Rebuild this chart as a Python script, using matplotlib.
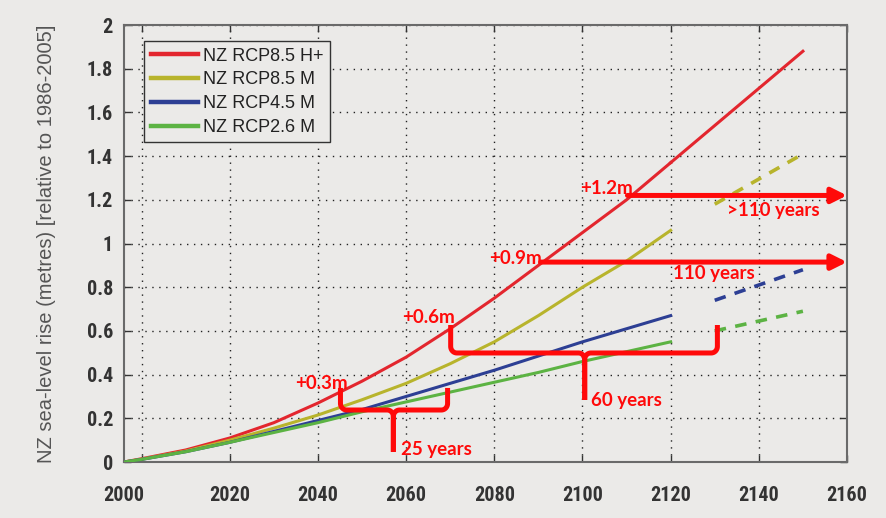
import numpy as np
import matplotlib
matplotlib.use('agg')
from matplotlib import pyplot as plt
from matplotlib import font_manager

# --- data ---
years = [1996, 2000, 2010, 2020, 2030, 2040, 2050, 2060, 2070, 2080, 2090, 2100, 2110, 2120]
rcp85_hplus = [0.0, 0.015, 0.055, 0.11, 0.18, 0.27, 0.37, 0.48, 0.61, 0.75, 0.90, 1.05, 1.20, 1.37]
rcp85_m = [0.0, 0.013, 0.05, 0.10, 0.155, 0.215, 0.285, 0.36, 0.45, 0.55, 0.67, 0.80, 0.92, 1.06]
rcp45_m = [0.0, 0.012, 0.047, 0.09, 0.14, 0.19, 0.24, 0.30, 0.36, 0.42, 0.485, 0.55, 0.61, 0.67]
rcp26_m = [0.0, 0.012, 0.047, 0.09, 0.135, 0.18, 0.23, 0.275, 0.32, 0.365, 0.41, 0.46, 0.505, 0.55]

# H+ continues solid beyond 2120, the M scenarios are dashed 2130-2150
hplus_ext_years = [2120, 2130, 2140, 2150]
hplus_ext = [1.37, 1.54, 1.71, 1.88]
ext_years = [2130, 2150]
rcp85_m_ext = [1.18, 1.41]
rcp45_m_ext = [0.74, 0.88]
rcp26_m_ext = [0.60, 0.69]

series_labels = ['NZ RCP8.5 H+', 'NZ RCP8.5 M', 'NZ RCP4.5 M', 'NZ RCP2.6 M']
series_colors = ['#e3262e', '#b8b42c', '#2d3f94', '#5cb343']

x_ticks = [2000, 2020, 2040, 2060, 2080, 2100, 2120, 2140, 2160]
y_ticks = [0, 0.2, 0.4, 0.6, 0.8, 1.0, 1.2, 1.4, 1.6, 1.8, 2.0]
y_ticklabels = ['0', '0.2', '0.4', '0.6', '0.8', '1', '1.2', '1.4', '1.6', '1.8', '2']

# annotations: (text, x, y)
rise_labels = [('+0.3m', 2040.8, 0.36), ('+0.6m', 2065.1, 0.66),
               ('+0.9m', 2084.8, 0.93), ('+1.2m', 2105.4, 1.25)]
delay_labels = [('25 years', 2058.8, 0.055), ('60 years', 2102.0, 0.28),
                ('110 years', 2129.7, 0.865), ('>110 years', 2143.3, 1.15)]
# arrows: (x start, level)
arrows = [(2090.5, 0.915), (2110.2, 1.22)]
# braces: (x left, x middle, x right, y top, y bar, y stem end)
braces = [(2045.1, 2057.1, 2069.4, 0.339, 0.238, 0.046),
          (2070.1, 2100.5, 2130.6, 0.627, 0.499, 0.284)]

ANN_RED = '#ff0a0a'


def pick_font(names):
    have = set(f.name for f in font_manager.fontManager.ttflist)
    for n in names:
        if n in have:
            return n
    return 'DejaVu Sans'


tick_font = pick_font(['Liberation Sans Narrow', 'Roboto Condensed', 'DejaVu Sans'])
text_font = pick_font(['Liberation Sans', 'Arial', 'DejaVu Sans'])
ann_font = pick_font(['Lato', 'Open Sans', 'DejaVu Sans'])


def draw_brace(ax, xl, xm, xr, ytop, ybar, ystem, color=ANN_RED, lw=3.6):
    rx, ry = 1.4, 0.03
    t = np.linspace(0, np.pi / 2, 10)
    # each arm: down, round corner, along the bar, round into the stem
    for xo, sgn in ((xl, 1), (xr, -1)):
        arm_x = [xo] + list(xo + sgn * (rx - rx * np.cos(t))) + list(xm - sgn * (rx - rx * np.sin(t))) + [xm]
        arm_y = [ytop] + list(ybar + ry - ry * np.sin(t)) + list(ybar - ry + ry * np.cos(t)) + [ystem]
        ax.plot(arm_x, arm_y, color=color, lw=lw, solid_capstyle='butt',
                solid_joinstyle='round', zorder=5)


bg = '#ebeae8'
fig = plt.figure(figsize=(8.87, 5.18), dpi=100, facecolor=bg)
ax = fig.add_axes([0.1398, 0.1081, 0.8151, 0.8436], facecolor=bg)

main = [rcp85_hplus, rcp85_m, rcp45_m, rcp26_m]
for vals, lab, col in zip(main, series_labels, series_colors):
    ax.plot(years, vals, color=col, lw=2.2, label=lab, zorder=3)

ax.plot(hplus_ext_years, hplus_ext, color=series_colors[0], lw=2.2, zorder=3)
for vals, col in zip([rcp85_m_ext, rcp45_m_ext, rcp26_m_ext], series_colors[1:]):
    ax.plot(ext_years, vals, color=col, lw=2.6, linestyle=(0, (3.2, 2.6)), zorder=3)

ax.set_xlim(1996, 2160)
ax.set_ylim(0, 2)
ax.set_xticks(x_ticks)
ax.set_xticklabels([''] + [str(v) for v in x_ticks[1:]])
ax.set_yticks(y_ticks)
ax.set_yticklabels(y_ticklabels)

ax.grid(True, color='#222222', linestyle=(0, (1, 4)), lw=1.0)
ax.tick_params(direction='in', top=True, right=True, length=5, width=1, color='#333333',
               labelsize=14.5, labelcolor='#333333')
ax.tick_params(axis='x', pad=17)
ax.tick_params(axis='y', pad=8)
for lbl in ax.get_xticklabels() + ax.get_yticklabels():
    lbl.set_family(tick_font)
    lbl.set_fontweight('bold')
# the first year label sits at the left edge in the reference
ax.annotate(str(x_ticks[0]), xy=(0, 0), xycoords='axes fraction', xytext=(0, -17),
            textcoords='offset points', ha='center', va='top', fontsize=14.5,
            fontweight='bold', color='#333333', family=tick_font)

for s in ax.spines.values():
    s.set_color('#6a6a6a')
    s.set_linewidth(1.5)

ax.set_ylabel('NZ sea-level rise (metres) [relative to 1986-2005]', fontsize=14.5,
              color='#555555', family=text_font, labelpad=22)

leg = ax.legend(loc='upper left', bbox_to_anchor=(0.028, 0.963), fontsize=13,
                frameon=True, fancybox=False, handlelength=2.6, handletextpad=0.3,
                borderpad=0.35, labelspacing=0.38, borderaxespad=0)
leg.get_frame().set_edgecolor('#333333')
leg.get_frame().set_facecolor(bg)
leg.get_frame().set_alpha(1)
leg.get_frame().set_linewidth(1.0)
for h in leg.get_lines():
    h.set_linewidth(3.2)
for t in leg.get_texts():
    t.set_family(text_font)
    t.set_color('#222222')

for txt, x, y in rise_labels:
    ax.text(x, y, txt, color=ANN_RED, fontsize=13.5, fontweight='bold', family=ann_font,
            ha='center', va='center', zorder=6)
for txt, x, y in delay_labels:
    ax.text(x, y, txt, color=ANN_RED, fontsize=13.5, fontweight='bold', family=ann_font,
            ha='left' if txt[0] in '26' else 'center', va='center', zorder=6)

for x0, lvl in arrows:
    ax.annotate('', xy=(2160, lvl), xytext=(x0, lvl), annotation_clip=False,
                arrowprops=dict(arrowstyle='-|>,head_length=0.9,head_width=0.45',
                                color=ANN_RED, lw=3.6, shrinkA=0, shrinkB=0), zorder=6)

for b in braces:
    draw_brace(ax, *b)

plt.savefig('out.png', dpi=100, facecolor=bg)
plt.close()
